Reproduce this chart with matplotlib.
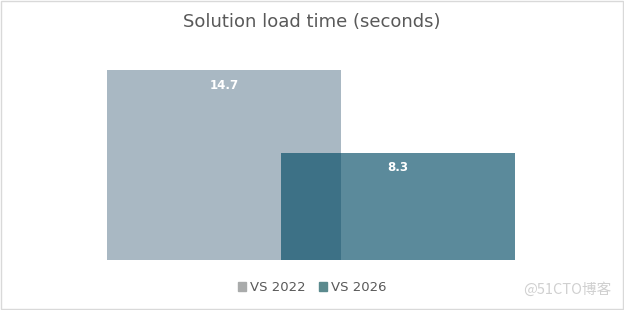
import matplotlib
matplotlib.use("Agg")
import matplotlib.pyplot as plt
from matplotlib.patches import Rectangle

series = ["VS 2022", "VS 2026"]
load_time = [14.7, 8.3]
colors = ["#A9B8C3", "#034B66"]
alphas = [1.0, 0.65]
legend_colors = ["#A9ABAB", "#5B8A8E"]

plt.rcParams["font.family"] = ["DejaVu Sans", "Noto Sans CJK SC"]

fig = plt.figure(figsize=(6.24, 3.10), dpi=100)
ax = fig.add_axes([0.1715, 0.1613, 0.6538, 0.6129])

x = range(len(series))
bars = ax.bar(x, load_time, width=1.34, color=colors, linewidth=0)
for b, a in zip(bars, alphas):
    b.set_alpha(a)

for b, v in zip(bars, load_time):
    ax.annotate(f"{v}", (b.get_x() + b.get_width() / 2, v), xytext=(0, -11),
                textcoords="offset points", ha="center", va="center",
                color="white", fontsize=8.5, fontweight="bold")

ax.set_xlim(-0.67, 1.67)
ax.set_ylim(0, 14.7)
ax.axis("off")

fig.text(0.5, 0.928, "Solution load time (seconds)", ha="center", va="center",
         fontsize=13, color="#595959")

handles = [Rectangle((0, 0), 1, 1, color=c) for c in legend_colors]
fig.legend(handles, series, loc="center", bbox_to_anchor=(0.5, 0.072), ncol=2,
           frameon=False, fontsize=9.5, labelcolor="#595959", handlelength=0.6,
           handleheight=0.6, handletextpad=0.3, columnspacing=1.0)

fig.text(0.98, 0.065, "@51CTO博客", ha="right", va="center", fontsize=10.5,
         color="#D0D0D0", family=["Noto Sans CJK SC", "DejaVu Sans"])

fig.patches.append(Rectangle((0.001, 0.002), 0.997, 0.995, transform=fig.transFigure,
                             fill=False, edgecolor="#D9D9D9", linewidth=1))

fig.savefig("out.png", dpi=100)
